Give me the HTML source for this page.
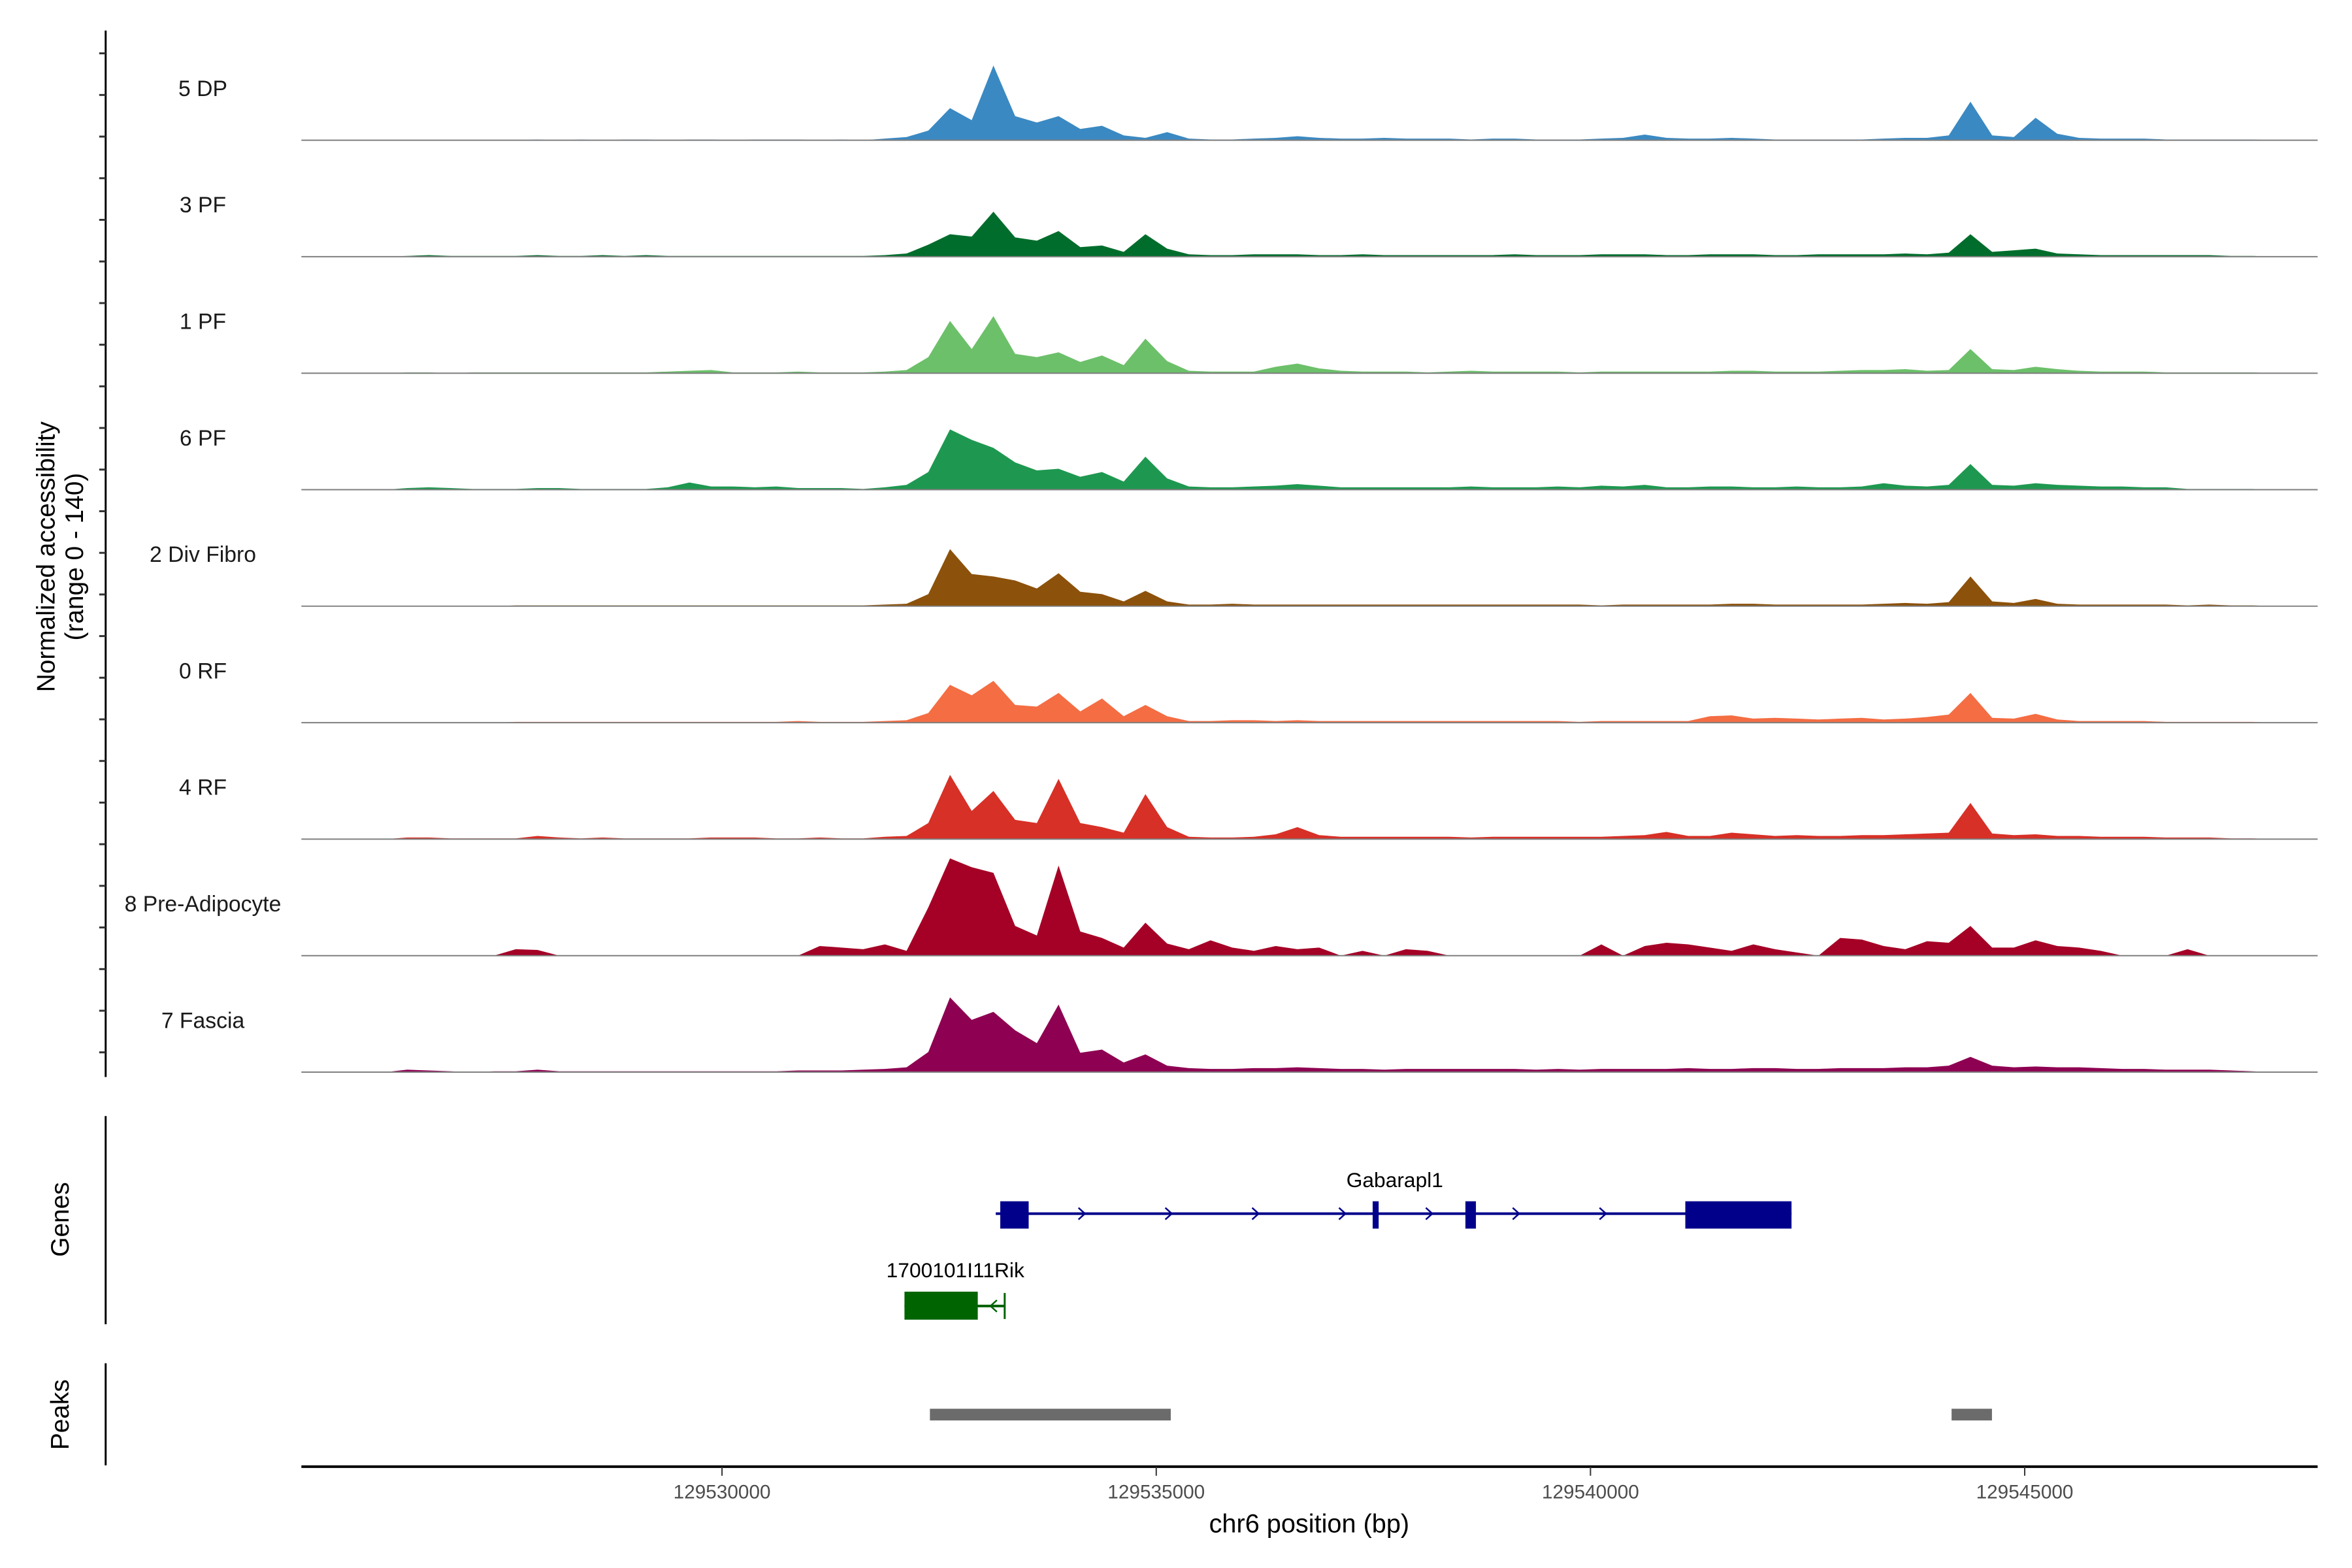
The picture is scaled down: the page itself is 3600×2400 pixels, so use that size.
<!DOCTYPE html>
<html><head><meta charset="utf-8"><style>
html,body{margin:0;padding:0;background:#fff}
svg{display:block;font-family:"Liberation Sans",sans-serif}
</style></head><body>
<svg id="chart" width="3600" height="2400" viewBox="0 0 3600 2400" xmlns="http://www.w3.org/2000/svg">
<rect width="3600" height="2400" fill="#fff"/>
<g transform="matrix(0.992,0,0,0.9955,4,1)">
<g id="tracks"></g>
<g id="genes"></g>
<g id="peaks"></g>
<g id="axes"></g>
</g>
</svg>
<script>
const binStart = 129525250;
const binSize = 250;
const trackNames = ["5 DP","3 PF","1 PF","6 PF","2 Div Fibro","0 RF","4 RF","8 Pre-Adipocyte","7 Fascia"];
const trackColors = ["#3a89c2","#006d2c","#6cc06a","#1e9850","#8c510a","#f46d43","#d73027","#a50026","#8e0152"];
const sigDP = [0,0,0,0,0,0,0,0,0,0, 1,0,1,0,1,1,0,1,1,0, 1,1,1,0,1,0,2,4,12,40, 25,93,30,22,30,14,18,6,3,10, 2,1,1,2,3,5,3,2,2,3, 2,2,2,1,2,2,1,1,1,2, 3,7,3,2,2,3,2,1,1,1, 1,1,2,3,3,6,48,6,4,28, 8,3,2,2,2,1,1,1,1,1, 0,0,0];
const sigPF3 = [0,0,0,0,1,2,1,1,1,1, 2,1,1,2,1,2,1,1,1,1, 1,1,1,1,1,1,2,4,15,28, 25,56,24,20,32,12,14,6,28,10, 3,2,2,3,3,3,2,2,3,2, 2,2,2,2,2,3,2,2,2,3, 3,3,2,2,3,3,3,2,2,3, 3,3,3,4,3,5,28,6,8,10, 4,3,2,2,2,2,2,2,1,1, 0,0,0];
const sigPF1 = [0,0,0,0,1,1,0,1,1,1, 1,1,1,1,1,1,2,3,4,1, 1,1,2,1,1,1,2,4,20,65, 30,71,24,20,26,14,22,10,43,15, 3,2,2,2,8,12,6,3,2,2, 2,1,2,3,2,2,2,2,1,2, 2,2,2,2,2,3,3,2,2,2, 3,4,4,5,3,4,30,5,4,8, 5,3,2,2,2,1,1,1,1,1, 0,0,0];
const sigPF6 = [0,0,0,0,2,3,2,1,1,1, 2,2,1,1,1,1,3,9,4,4, 3,4,2,2,2,1,3,6,22,75, 62,52,34,24,26,16,22,10,41,14, 4,3,3,4,5,7,5,3,3,3, 3,3,3,4,3,3,3,4,3,5, 4,6,3,3,4,4,3,3,4,3, 3,4,8,5,4,6,32,6,5,8, 6,5,4,4,3,3,1,1,1,1, 0,0,0];
const sigDiv = [0,0,0,0,0,0,0,0,0,1, 1,1,1,1,1,1,1,1,1,1, 1,1,1,1,1,1,2,3,15,71, 40,37,32,22,41,18,15,6,19,6, 2,2,3,2,2,2,2,2,2,2, 2,2,2,2,2,2,2,2,2,1, 2,2,2,2,2,3,3,2,2,2, 2,2,3,4,3,5,37,6,4,9, 3,2,2,2,2,2,1,2,1,1, 0,0,0];
const sigRF0 = [0,0,0,0,0,0,0,0,0,1, 1,1,1,1,1,1,1,1,1,1, 1,1,2,1,1,1,2,3,12,47, 34,52,22,20,37,14,30,8,22,8, 2,2,3,3,2,3,2,2,2,2, 2,2,2,2,2,2,2,2,1,2, 2,2,2,2,8,9,5,6,5,4, 5,6,4,5,7,10,37,6,5,11, 4,2,2,2,2,1,1,1,1,1, 0,0,0];
const sigRF4 = [0,0,0,0,2,2,1,1,1,1, 4,2,1,2,1,1,1,1,2,2, 2,1,1,2,1,1,3,4,20,80, 35,60,24,20,75,20,15,8,56,15, 3,2,2,3,6,15,5,3,3,3, 3,3,3,2,3,3,3,3,3,3, 4,5,9,4,4,8,6,4,5,4, 4,5,5,6,7,8,45,7,5,6, 4,4,3,3,3,2,2,2,1,1, 0,0,0];
const sigPre = [0,0,0,0,0,0,0,0,0,8, 7,0,0,0,0,0,0,0,0,0, 0,0,0,12,10,8,14,6,60,121, 110,103,37,25,112,30,22,10,41,15, 8,19,10,6,12,8,10,0,6,0, 8,6,0,0,0,0,0,0,0,14, 0,12,16,14,10,6,14,8,4,0, 22,20,12,8,18,16,37,10,10,19, 12,10,6,0,0,0,8,0,0,0, 0,0,0];
const sigFas = [0,0,0,0,3,2,1,0,1,1, 3,1,1,1,1,1,1,1,1,1, 1,1,2,2,2,3,4,6,25,93, 65,75,52,36,84,24,28,12,22,8, 5,4,4,5,5,6,5,4,4,3, 4,4,4,4,4,4,3,4,3,4, 4,4,4,5,4,4,5,5,4,4, 5,5,5,6,6,8,19,8,6,7, 6,6,5,4,4,3,3,3,2,1, 0,0,0];
const xTicks = [129530000,129535000,129540000,129545000];
const geneGabStart = 129533152, geneGabEnd = 129542315;
const gabExons = [[129533204,129533531],[129537492,129537561],[129538560,129538681],[129541092,129542315]];
const rikStart = 129532101, rikEnd = 129533255;
const rikExons = [[129532101,129532945]];
const peakRanges = [[129532394,129535167],[129544158,129544623]];

const NS="http://www.w3.org/2000/svg";
function mk(tag, attrs, parent){const e=document.createElementNS(NS,tag);for(const k in attrs)e.setAttribute(k,attrs[k]);parent.appendChild(e);return e;}
function xs(bp){return 1110 + (bp-129530000)/5000*670;}
const yMax=140, trackH=173, base0=214.6, step=179.1, plotL=461, plotR=3572;
function ys(v,k){return base0+step*k - v/yMax*trackH;}

const allSig=[sigDP,sigPF3,sigPF1,sigPF6,sigDiv,sigRF0,sigRF4,sigPre,sigFas];
const tg=document.getElementById('tracks');
allSig.forEach((sig,k)=>{
  const g=mk('g',{},tg);
  
  
  let d='M'+xs(binStart)+','+ys(0,k);
  sig.forEach((v,i)=>{d+=' L'+xs(binStart+binSize*(i+0.5)).toFixed(1)+','+ys(v,k).toFixed(1);});
  d+=' L'+xs(binStart+binSize*sig.length)+','+ys(0,k)+' Z';
  const p=mk('path',{d:d,fill:trackColors[k]},g);
  
  
  const bl=mk('line',{x1:plotL,x2:plotR,y1:ys(0,k),y2:ys(0,k),stroke:'#7f7f7f','stroke-width':2},g);
  
  
  const t=mk('text',{x:309,y:ys(0,k)-68,'font-size':34,'text-anchor':'middle',fill:'#1a1a1a'},g);
  t.textContent=trackNames[k];
  
  
});

const ax=document.getElementById('axes');
let l=mk('line',{x1:159,x2:159,y1:46,y2:1655,stroke:'#000','stroke-width':3},ax);


for(let i=0;i<25;i++){const y=81+i*64;
  const tk=mk('line',{x1:149,x2:159,y1:y,y2:y,stroke:'#333','stroke-width':3},ax);
  
  }
let yt=mk('text',{transform:'translate(80,855) rotate(-90)','font-size':39,'text-anchor':'middle',fill:'#000'},ax);
yt.textContent='Normalized accessibility';


let yt2=mk('text',{transform:'translate(124,855) rotate(-90)','font-size':39,'text-anchor':'middle',fill:'#000'},ax);
yt2.textContent='(range 0 - 140)';


let xl=mk('line',{x1:plotL,x2:plotR,y1:2254,y2:2254,stroke:'#000','stroke-width':4},ax);


xTicks.forEach(v=>{
  const tk=mk('line',{x1:xs(v),x2:xs(v),y1:2254,y2:2268,stroke:'#333','stroke-width':2},ax);
  
  
  const t=mk('text',{x:xs(v),y:2303,'font-size':30,'text-anchor':'middle',fill:'#4d4d4d'},ax);
  t.textContent=String(v);
  
  
});
let xt=mk('text',{x:2016,y:2355,'font-size':40,'text-anchor':'middle',fill:'#000'},ax);
xt.textContent='chr6 position (bp)';



const gg=document.getElementById('genes');
let ga=mk('line',{x1:159,x2:159,y1:1715,y2:2035,stroke:'#000','stroke-width':3},gg);


let gt=mk('text',{transform:'translate(102,1874) rotate(-90)','font-size':39,'text-anchor':'middle',fill:'#000'},gg);
gt.textContent='Genes';


const gy=1865;
let gl=mk('line',{x1:xs(geneGabStart),x2:xs(geneGabEnd),y1:gy,y2:gy,stroke:'#00008b','stroke-width':4},gg);


for(let i=0;i<7;i++){const x=1666+i*134;
  const a=mk('path',{d:`M${x-6},${gy-9} L${x+4},${gy} L${x-6},${gy+9}`,fill:'none',stroke:'#00008b','stroke-width':2.5},gg);
  
  }
gabExons.forEach(e=>{
  const r=mk('rect',{x:xs(e[0]),y:1846,width:Math.max(6,xs(e[1])-xs(e[0])),height:42,fill:'#00008b'},gg);
  
  
});
let gn=mk('text',{x:2148,y:1824,'font-size':32,'text-anchor':'middle',fill:'#000'},gg);
gn.textContent='Gabarapl1';


const ry=2007;
let rl=mk('line',{x1:xs(rikStart),x2:xs(rikEnd),y1:ry,y2:ry,stroke:'#006400','stroke-width':4},gg);


let rk=mk('line',{x1:xs(rikEnd),x2:xs(rikEnd),y1:ry-20,y2:ry+20,stroke:'#006400','stroke-width':3},gg);


let ra=mk('path',{d:`M${xs(rikEnd)-12},${ry-9} L${xs(rikEnd)-22},${ry} L${xs(rikEnd)-12},${ry+9}`,fill:'none',stroke:'#006400','stroke-width':2.5},gg);


rikExons.forEach(e=>{
  const r=mk('rect',{x:xs(e[0]),y:1985,width:xs(e[1])-xs(e[0]),height:43,fill:'#006400'},gg);
  
  
});
let rn=mk('text',{x:1470,y:1963,'font-size':32,'text-anchor':'middle',fill:'#000'},gg);
rn.textContent='1700101I11Rik';



const pg=document.getElementById('peaks');
let pa=mk('line',{x1:159,x2:159,y1:2095,y2:2252,stroke:'#000','stroke-width':3},pg);


let pt=mk('text',{transform:'translate(102,2174) rotate(-90)','font-size':39,'text-anchor':'middle',fill:'#000'},pg);
pt.textContent='Peaks';


peakRanges.forEach(p=>{
  const r=mk('rect',{x:xs(p[0]),y:2165,width:xs(p[1])-xs(p[0]),height:18,fill:'#6b6b6b'},pg);
  
  
});
</script>
</body></html>
